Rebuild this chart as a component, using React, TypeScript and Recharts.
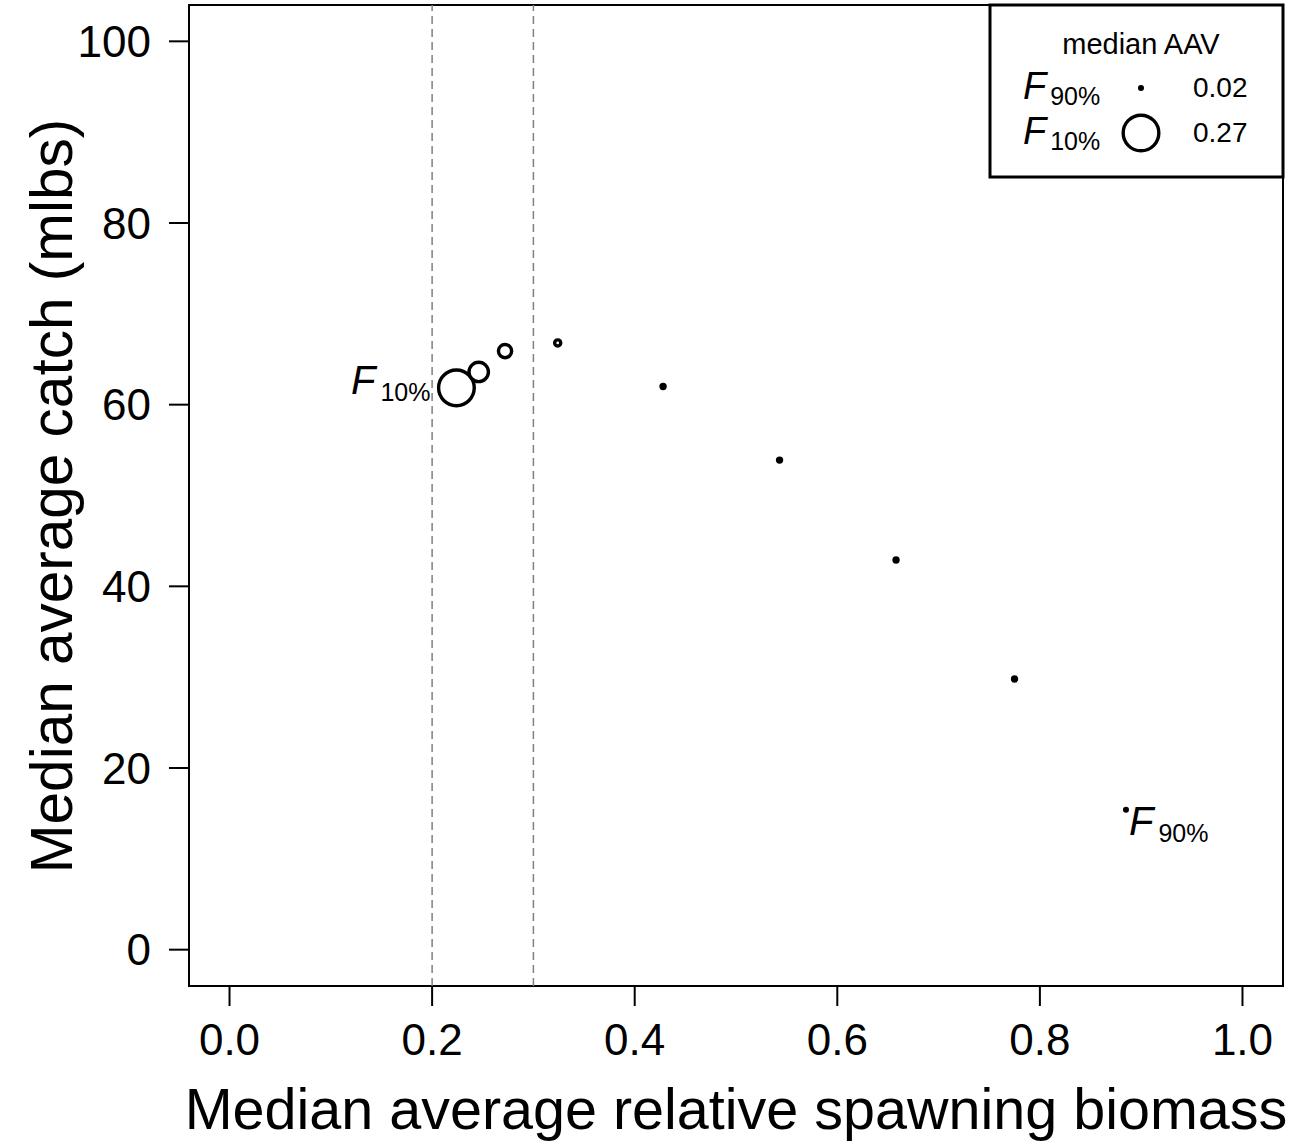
import React from "react";
import { ScatterChart, Scatter, XAxis, YAxis, ReferenceLine, ReferenceArea } from "recharts";

// median outcomes per harvest rule, F10% ... F90%
const biomass = [0.224, 0.246, 0.272, 0.324, 0.428, 0.543, 0.658, 0.775, 0.885];
const catchMlbs = [61.85, 63.6, 65.9, 66.8, 62.0, 53.9, 42.9, 29.8, 15.4];
const medianAAV = [0.27, 0.147, 0.1, 0.046, 0.03, 0.03, 0.03, 0.03, 0.02];
const pointLabels = ["10%", "", "", "", "", "", "", "", "90%"];

const xTicks = [0, 0.2, 0.4, 0.6, 0.8, 1.0];
const yTicks = [0, 20, 40, 60, 80, 100];
const refLines = [0.2, 0.3];
const legendRows = [
  { sub: "90%", aav: 0.02 },
  { sub: "10%", aav: 0.27 },
];

const data = biomass.map((b, i) => ({
  x: b,
  y: catchMlbs[i],
  aav: medianAAV[i],
  label: pointLabels[i],
}));

const FONT = '"Liberation Sans", Arial, Helvetica, sans-serif';
const R_SCALE = 66;

function Bubble(props: any) {
  const { cx, cy, payload, index } = props;
  const r = payload.aav * R_SCALE;
  const small = r < 2.5;
  return (
    <g>
      {small ? (
        <circle cx={cx} cy={cy} r={r + 1.7} fill="#000" />
      ) : (
        <circle cx={cx} cy={cy} r={r} fill="#fff" stroke="#000" strokeWidth={3.4} />
      )}
      {payload.label && index === 0 && (
        <text x={cx - 26} y={cy + 6} textAnchor="end" fontFamily={FONT} fill="#000">
          <tspan fontSize={40} fontStyle="italic">F</tspan>
          <tspan fontSize={25} dx={5} dy={7}>{payload.label}</tspan>
        </text>
      )}
      {payload.label && index !== 0 && (
        <text x={cx + 3} y={cy + 25} textAnchor="start" fontFamily={FONT} fill="#000">
          <tspan fontSize={40} fontStyle="italic">F</tspan>
          <tspan fontSize={25} dx={5} dy={7}>{payload.label}</tspan>
        </text>
      )}
    </g>
  );
}

export default function App() {
  return (
    <div style={{ position: "absolute", left: 0, top: 0, width: 1301, height: 1145, background: "#fff" }}>
      <ScatterChart
        width={1301}
        height={1145}
        margin={{ top: 5, right: 18, bottom: 0, left: 0 }}
        style={{ fontFamily: FONT }}
      >
        <XAxis
          type="number"
          dataKey="x"
          domain={[-0.04, 1.04]}
          ticks={xTicks}
          tickFormatter={(v: number) => v.toFixed(1)}
          axisLine={false}
          tickLine={{ stroke: "#000", strokeWidth: 2 }}
          tickSize={20}
          tickMargin={18}
          height={159}
          tick={{ fill: "#000", fontSize: 44, fontFamily: FONT }}
          allowDataOverflow
        />
        <YAxis
          type="number"
          dataKey="y"
          domain={[-4, 104]}
          ticks={yTicks}
          axisLine={false}
          tickLine={{ stroke: "#000", strokeWidth: 2 }}
          tickSize={20}
          tickMargin={18}
          width={189}
          tick={{ fill: "#000", fontSize: 44, fontFamily: FONT }}
          allowDataOverflow
        />
        <ReferenceArea
          x1={-0.04}
          x2={1.04}
          y1={-4}
          y2={104}
          fill="none"
          stroke="#000"
          strokeWidth={2}
          ifOverflow="visible"
        />
        {refLines.map((v) => (
          <ReferenceLine key={v} x={v} stroke="#808080" strokeWidth={1.5} strokeDasharray="8 5" />
        ))}
        <Scatter data={data} shape={<Bubble />} isAnimationActive={false} />
      </ScatterChart>
      <svg
        width={1301}
        height={1145}
        style={{ position: "absolute", left: 0, top: 0, pointerEvents: "none" }}
        fontFamily={FONT}
      >
        <text x={736} y={1129} textAnchor="middle" fontSize={57.5} fill="#000">
          Median average relative spawning biomass
        </text>
        <text
          transform="translate(72,496) rotate(-90)"
          textAnchor="middle"
          fontSize={58.5}
          fill="#000"
        >
          Median average catch (mlbs)
        </text>
        <rect x={990} y={5} width={293} height={172} fill="#fff" stroke="#000" strokeWidth={3} />
        <text x={1141} y={54} textAnchor="middle" fontSize={29} fill="#000">
          median AAV
        </text>
        {legendRows.map((row, i) => {
          const cy = 88 + i * 45;
          const r = row.aav * R_SCALE;
          return (
            <g key={row.sub}>
              <text x={1023} y={cy + 11} fill="#000">
                <tspan fontSize={38} fontStyle="italic">F</tspan>
                <tspan fontSize={25} dx={4} dy={6}>{row.sub}</tspan>
              </text>
              {r < 2.5 ? (
                <circle cx={1141} cy={cy} r={r + 1.7} fill="#000" />
              ) : (
                <circle cx={1141} cy={cy} r={r} fill="#fff" stroke="#000" strokeWidth={3.4} />
              )}
              <text x={1193} y={cy + 9} fontSize={28} fill="#000">
                {row.aav.toFixed(2)}
              </text>
            </g>
          );
        })}
      </svg>
    </div>
  );
}
